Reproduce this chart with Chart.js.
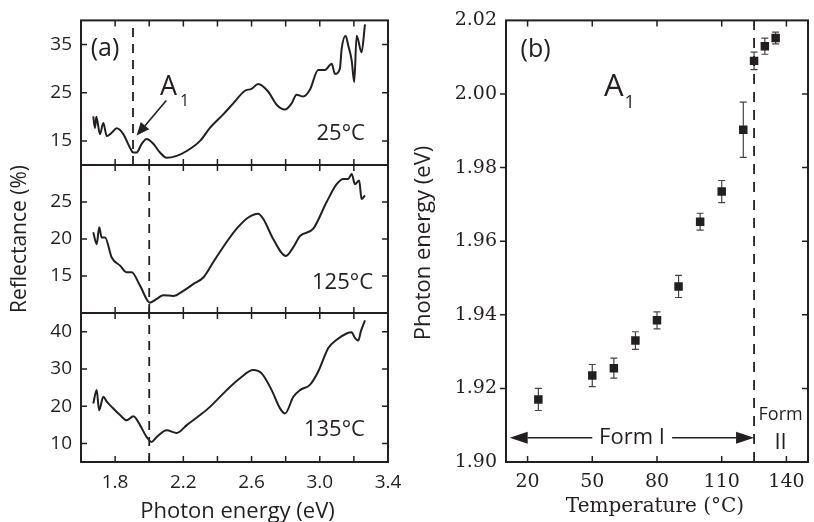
<!DOCTYPE html>
<html>
<head>
<meta charset="utf-8">
<script src="https://cdn.jsdelivr.net/npm/chart.js@4.4.1/dist/chart.umd.min.js"></script>
<style>
    body { margin: 0; background: #fff; }
    #wrap { position: relative; width: 814px; height: 522px; }
    #wrap canvas { position: absolute; left: 0; top: 0; }
</style>
</head>
<body>
<div id="wrap">
    <canvas id="spec25" width="814" height="522"></canvas>
    <canvas id="spec125" width="814" height="522"></canvas>
    <canvas id="spec135" width="814" height="522"></canvas>
    <canvas id="tempChart" width="814" height="522"></canvas>
</div>
<script>
// ----- (a) reflectance spectra -----
const energy25 = [1.672, 1.682, 1.69, 1.711, 1.731, 1.751, 1.78, 1.809, 1.848, 1.887, 1.907, 1.926, 1.956, 1.985, 2.024, 2.063, 2.102, 2.161, 2.22, 2.298, 2.356, 2.434, 2.493, 2.561, 2.60, 2.639, 2.698, 2.747, 2.796, 2.835, 2.864, 2.903, 2.942, 2.991, 3.03, 3.07, 3.089, 3.118, 3.128, 3.151, 3.167, 3.187, 3.202, 3.216, 3.245, 3.265];
const refl25 = [20.1, 17.7, 20.0, 16.4, 18.7, 16.0, 16.7, 17.6, 16.4, 13.6, 12.6, 12.6, 14.4, 15.4, 14.4, 12.6, 11.5, 11.9, 12.9, 15.0, 17.7, 20.5, 22.8, 25.4, 25.8, 26.8, 25.2, 22.5, 21.5, 22.8, 24.6, 24.2, 25.6, 29.7, 29.7, 31.0, 28.9, 30.0, 34.0, 36.8, 34.8, 31.7, 27.2, 36.8, 33.4, 39.2];

const energy125 = [1.672, 1.692, 1.707, 1.721, 1.741, 1.78, 1.829, 1.868, 1.897, 1.946, 2.004, 2.044, 2.082, 2.141, 2.20, 2.258, 2.317, 2.376, 2.454, 2.513, 2.581, 2.639, 2.669, 2.727, 2.802, 2.845, 2.884, 2.962, 3.04, 3.099, 3.138, 3.167, 3.187, 3.206, 3.231, 3.245, 3.265];
const refl125 = [20.9, 19.3, 21.6, 20.2, 20.2, 17.5, 16.4, 15.5, 15.5, 13.7, 11.4, 11.9, 12.4, 12.3, 13.0, 13.9, 14.8, 16.9, 19.6, 21.4, 22.9, 23.4, 22.7, 20.0, 17.7, 18.9, 20.4, 21.4, 25.0, 27.4, 28.1, 28.1, 28.8, 27.4, 27.9, 25.4, 25.9];

const energy135 = [1.672, 1.692, 1.706, 1.731, 1.751, 1.78, 1.829, 1.868, 1.907, 1.946, 1.985, 2.014, 2.044, 2.102, 2.161, 2.22, 2.298, 2.356, 2.454, 2.532, 2.61, 2.659, 2.718, 2.767, 2.796, 2.845, 2.884, 2.942, 2.991, 3.05, 3.099, 3.157, 3.187, 3.206, 3.226, 3.241, 3.265];
const refl135 = [20.7, 24.3, 18.9, 22.5, 21.2, 19.8, 17.6, 16.2, 17.3, 14.9, 11.7, 10.4, 11.7, 13.5, 12.8, 14.9, 17.6, 19.8, 24.3, 27.5, 29.7, 28.8, 24.3, 19.4, 18.0, 22.5, 24.3, 25.7, 29.3, 35.6, 37.8, 39.5, 39.8, 38.3, 37.6, 40.1, 43.0];

const energyTickMarks = [1.8, 2.0, 2.2, 2.4, 2.6, 2.8, 3.0, 3.2];
const energyTickLabels = [1.8, 2.2, 2.6, 3.0, 3.4];
const reflTicks25 = [15, 25, 35];
const reflTicks125 = [15, 20, 25];
const reflTicks135 = [10, 20, 30, 40];
const a1Energy25 = 1.905;   // dashed marker, 25 C
const a1EnergyHot = 2.0;    // dashed marker, 125 / 135 C

// ----- (b) A1 peak position vs temperature -----
const temps = [25, 50, 60, 70, 80, 90, 100, 110, 120, 125, 130, 135];
const peakEnergy = [1.917, 1.9235, 1.9255, 1.933, 1.9385, 1.9477, 1.9653, 1.9735, 1.9903, 2.009, 2.013, 2.0152];
const peakErr = [0.003, 0.003, 0.0027, 0.0024, 0.0023, 0.003, 0.0023, 0.003, 0.0075, 0.0024, 0.0022, 0.0016];
const tempTicks = [20, 50, 80, 110, 140];
const peakTicks = [1.90, 1.92, 1.94, 1.96, 1.98, 2.00, 2.02];
const transitionTemp = 125;

const INK = '#231f20';
const SANS = "'Open Sans', 'DejaVu Sans', sans-serif";
const SERIF = "'DejaVu Serif', serif";

Chart.defaults.font.family = SANS;
Chart.defaults.color = INK;

// frame round the plot area with inward tick marks on every side
const frameTicks = {
    id: 'frameTicks',
    afterDraw(chart, args, opts) {
        const { ctx, chartArea: a, scales: { x, y } } = chart;
        const len = 6;
        ctx.save();
        ctx.strokeStyle = INK;
        ctx.lineWidth = 1.5;
        ctx.beginPath();
        (opts.xTicks || []).forEach(v => {
            const px = x.getPixelForValue(v);
            ctx.moveTo(px, a.top); ctx.lineTo(px, a.top + len);
            ctx.moveTo(px, a.bottom); ctx.lineTo(px, a.bottom - len);
        });
        (opts.yTicks || []).forEach(v => {
            const py = y.getPixelForValue(v);
            if (opts.leftOut) { ctx.moveTo(a.left - len, py); ctx.lineTo(a.left, py); }
            else { ctx.moveTo(a.left, py); ctx.lineTo(a.left + len, py); }
            ctx.moveTo(a.right, py); ctx.lineTo(a.right - len, py);
        });
        ctx.stroke();
        ctx.lineWidth = 2;
        ctx.strokeRect(a.left, a.top, a.right - a.left, a.bottom - a.top);
        ctx.restore();
    }
};
Chart.register(frameTicks);

function drawText(ctx, text, x, y, font, align) {
    ctx.font = font;
    ctx.fillStyle = INK;
    ctx.textAlign = align || 'center';
    ctx.textBaseline = 'middle';
    ctx.fillText(text, x, y);
}

function drawArrow(ctx, x0, y0, x1, y1, headLen, headHalf) {
    const ang = Math.atan2(y1 - y0, x1 - x0);
    const bx = x1 - headLen * Math.cos(ang), by = y1 - headLen * Math.sin(ang);
    ctx.beginPath();
    ctx.moveTo(x0, y0); ctx.lineTo(bx, by);
    ctx.stroke();
    ctx.beginPath();
    ctx.moveTo(x1, y1);
    ctx.lineTo(bx + headHalf * Math.sin(ang), by - headHalf * Math.cos(ang));
    ctx.lineTo(bx - headHalf * Math.sin(ang), by + headHalf * Math.cos(ang));
    ctx.closePath();
    ctx.fill();
}

// one stacked sub-plot of panel (a)
function spectrumChart(id, energy, refl, cfg) {
    const xHeight = cfg.showX ? 30 : 0;
    return new Chart(document.getElementById(id), {
        type: 'line',
        data: {
            datasets: [{
                data: energy.map((e, i) => ({ x: e, y: refl[i] })),
                borderColor: INK,
                borderWidth: 2,
                pointRadius: 0,
                cubicInterpolationMode: 'monotone'
            }, {
                data: [{ x: cfg.dashAt, y: cfg.yMin }, { x: cfg.dashAt, y: cfg.yMax }],
                borderColor: INK,
                borderWidth: 1.8,
                borderDash: [9, 7],
                pointRadius: 0
            }]
        },
        options: {
            responsive: false,
            animation: false,
            events: [],
            layout: { padding: { left: 81 - 50, right: 814 - 388, top: cfg.top, bottom: 522 - cfg.bottom - xHeight } },
            scales: {
                x: {
                    type: 'linear', min: 1.6, max: 3.4,
                    afterBuildTicks: s => { s.ticks = energyTickLabels.map(v => ({ value: v })); },
                    afterFit: s => { s.height = xHeight; },
                    grid: { display: false, drawTicks: false },
                    border: { display: false },
                    ticks: { display: cfg.showX, padding: 9, font: { size: 19 }, callback: v => v.toFixed(1) }
                },
                y: {
                    min: cfg.yMin, max: cfg.yMax,
                    afterBuildTicks: s => { s.ticks = cfg.yTicks.map(v => ({ value: v })); },
                    afterFit: s => { s.width = 50; },
                    grid: { display: false, drawTicks: false },
                    border: { display: false },
                    ticks: { padding: 9, font: { size: 19 } }
                }
            },
            plugins: {
                legend: { display: false },
                tooltip: { enabled: false },
                frameTicks: { xTicks: energyTickMarks, yTicks: cfg.yTicks }
            }
        },
        plugins: [{ id: 'notes', afterDraw: chart => cfg.notes(chart) }]
    });
}

spectrumChart('spec25', energy25, refl25, {
    top: 17, bottom: 165, yMin: 10, yMax: 40, yTicks: reflTicks25, dashAt: a1Energy25, showX: false,
    notes(chart) {
        const { ctx, scales: { x, y } } = chart;
        ctx.save();
        drawText(ctx, '(a)', x.getPixelForValue(1.741), y.getPixelForValue(34.1), '25px ' + SANS);
        drawText(ctx, 'A', x.getPixelForValue(2.113), y.getPixelForValue(26.2), '27px ' + SANS);
        drawText(ctx, '1', x.getPixelForValue(2.207), y.getPixelForValue(23.2), '16px ' + SANS);
        ctx.strokeStyle = INK; ctx.fillStyle = INK; ctx.lineWidth = 1.6;
        drawArrow(ctx, x.getPixelForValue(2.10), y.getPixelForValue(23.4),
            x.getPixelForValue(1.926), y.getPixelForValue(16.1), 13, 5.5);
        drawText(ctx, '25°C', x.getPixelForValue(3.265), y.getPixelForValue(16.4), '22px ' + SANS, 'right');
        ctx.restore();
    }
});

spectrumChart('spec125', energy125, refl125, {
    top: 165, bottom: 313, yMin: 10, yMax: 30, yTicks: reflTicks125, dashAt: a1EnergyHot, showX: false,
    notes(chart) {
        const { ctx, scales: { x, y } } = chart;
        ctx.save();
        drawText(ctx, '125°C', x.getPixelForValue(3.312), y.getPixelForValue(14.05), '22px ' + SANS, 'right');
        ctx.translate(20, 239);
        ctx.rotate(-Math.PI / 2);
        drawText(ctx, 'Reflectance (%)', 0, 0, '21px ' + SANS);
        ctx.restore();
    }
});

spectrumChart('spec135', energy135, refl135, {
    top: 313, bottom: 462, yMin: 5, yMax: 45, yTicks: reflTicks135, dashAt: a1EnergyHot, showX: true,
    notes(chart) {
        const { ctx, chartArea: a, scales: { x, y } } = chart;
        ctx.save();
        drawText(ctx, '135°C', x.getPixelForValue(3.265), y.getPixelForValue(13.6), '22px ' + SANS, 'right');
        drawText(ctx, 'Photon energy (eV)', (a.left + a.right) / 2 + 3, 512, '22px ' + SANS);
        ctx.restore();
    }
});

// ----- panel (b) -----
new Chart(document.getElementById('tempChart'), {
    type: 'scatter',
    data: {
        datasets: [{
            data: temps.map((t, i) => ({ x: t, y: peakEnergy[i] })),
            pointStyle: 'rect',
            pointRadius: 6,
            backgroundColor: INK,
            borderColor: INK,
            borderWidth: 0
        }, {
            type: 'line',
            data: [{ x: transitionTemp, y: 1.90 }, { x: transitionTemp, y: 2.02 }],
            borderColor: INK,
            borderWidth: 1.8,
            borderDash: [10, 8],
            pointRadius: 0
        }]
    },
    options: {
        responsive: false,
        animation: false,
        events: [],
        layout: { padding: { left: 506 - 70, right: 3, top: 20, bottom: 522 - 462 - 30 } },
        scales: {
            x: {
                type: 'linear', min: 10, max: 150,
                afterBuildTicks: s => { s.ticks = tempTicks.map(v => ({ value: v })); },
                afterFit: s => { s.height = 30; },
                grid: { display: false, drawTicks: false },
                border: { display: false },
                ticks: { padding: 9, font: { family: SERIF, size: 19 } }
            },
            y: {
                min: 1.90, max: 2.02,
                afterBuildTicks: s => { s.ticks = peakTicks.map(v => ({ value: v })); },
                afterFit: s => { s.width = 70; },
                grid: { display: false, drawTicks: false },
                border: { display: false },
                ticks: { padding: 9, font: { family: SERIF, size: 19 }, callback: v => v.toFixed(2) }
            }
        },
        plugins: {
            legend: { display: false },
            tooltip: { enabled: false },
            frameTicks: { xTicks: tempTicks, yTicks: peakTicks.slice(1, -1), leftOut: true }
        }
    },
    plugins: [{
        id: 'errorBars',
        beforeDatasetsDraw(chart) {
            const { ctx, scales: { x, y } } = chart;
            ctx.save();
            ctx.strokeStyle = '#444';
            ctx.lineWidth = 1.2;
            ctx.beginPath();
            temps.forEach((t, i) => {
                const px = x.getPixelForValue(t);
                const top = y.getPixelForValue(peakEnergy[i] + peakErr[i]);
                const bot = y.getPixelForValue(peakEnergy[i] - peakErr[i]);
                ctx.moveTo(px, top); ctx.lineTo(px, bot);
                ctx.moveTo(px - 3.5, top); ctx.lineTo(px + 3.5, top);
                ctx.moveTo(px - 3.5, bot); ctx.lineTo(px + 3.5, bot);
            });
            ctx.stroke();
            ctx.restore();
        }
    }, {
        id: 'notes',
        afterDraw(chart) {
            const { ctx, chartArea: a, scales: { x, y } } = chart;
            ctx.save();
            drawText(ctx, '(b)', x.getPixelForValue(23.7), y.getPixelForValue(2.0121), '25px ' + SANS);
            drawText(ctx, 'A', x.getPixelForValue(60), y.getPixelForValue(2.0018), '31px ' + SANS);
            drawText(ctx, '1', x.getPixelForValue(67.3), y.getPixelForValue(1.9975), '18px ' + SANS);
            const ay = y.getPixelForValue(1.9066);
            ctx.strokeStyle = INK; ctx.fillStyle = INK; ctx.lineWidth = 1.6;
            drawArrow(ctx, x.getPixelForValue(50), ay, x.getPixelForValue(11.7), ay, 18, 6);
            drawArrow(ctx, x.getPixelForValue(87), ay, x.getPixelForValue(transitionTemp), ay, 18, 6);
            drawText(ctx, 'Form I', x.getPixelForValue(68.4), ay, '22px ' + SANS);
            drawText(ctx, 'Form', x.getPixelForValue(137.3), y.getPixelForValue(1.9128), '18px ' + SANS);
            drawText(ctx, 'II', x.getPixelForValue(137.3), y.getPixelForValue(1.9052), '22px ' + SANS);
            drawText(ctx, 'Temperature (°C)', (a.left + a.right) / 2 - 2, 507, '20px ' + SERIF);
            ctx.translate(424, 243);
            ctx.rotate(-Math.PI / 2);
            drawText(ctx, 'Photon energy (eV)', 0, 0, '22px ' + SANS);
            ctx.restore();
        }
    }]
});
</script>
</body>
</html>
